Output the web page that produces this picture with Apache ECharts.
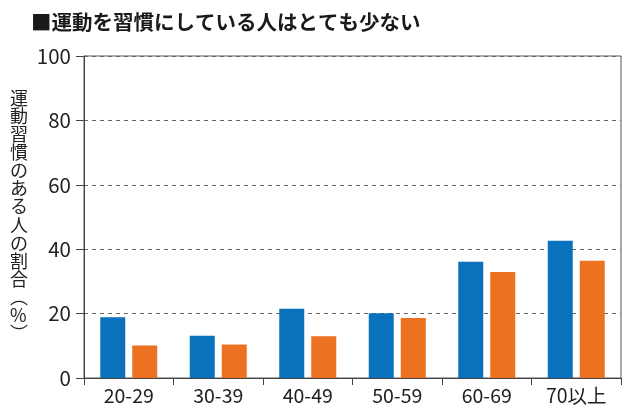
<!DOCTYPE html>
<html>
<head>
<meta charset="utf-8">
<script src="https://cdn.jsdelivr.net/npm/echarts@6/dist/echarts.min.js"></script>
<style>
html,body{margin:0;padding:0;background:#fff;}
#chart{width:630px;height:415px;}
</style>
</head>
<body>
<div id="chart"></div>
<script>
const titleText = '■運動を習慣にしている人はとても少ない';
const yAxisName = '運動習慣のある人の割合(%)';
const categories = ['20-29', '30-39', '40-49', '50-59', '60-69', '70以上'];
const seriesBlue = [18.9, 13.1, 21.5, 20.1, 36.1, 42.6];
const seriesOrange = [10.1, 10.4, 13.0, 18.6, 32.9, 36.4];
const yTicks = [0, 20, 40, 60, 80, 100];

const font = '"Noto Sans CJK JP", "Noto Sans", sans-serif';
const chart = echarts.init(document.getElementById('chart'), null, {renderer: 'canvas'});

const vertName = yAxisName.replace('(', '︵').replace(')', '︶').split('').join('\n');

chart.setOption({
  animation: false,
  backgroundColor: '#fff',
  textStyle: {fontFamily: font},
  title: {
    text: titleText,
    left: 26,
    top: 7,
    textStyle: {fontFamily: font, fontSize: 20.5, fontWeight: 'bold', color: '#1a1a1a'}
  },
  graphic: [{
    type: 'text',
    left: 10,
    top: 89,
    style: {
      text: vertName,
      font: '18px ' + font,
      lineHeight: 18.1,
      fill: '#222',
      textAlign: 'left'
    }
  }],
  grid: {
    left: 84, right: 9, top: 56, bottom: 37,
    show: true,
    borderColor: '#555',
    borderWidth: 1,
    containLabel: false
  },
  xAxis: {
    type: 'category',
    data: categories,
    axisLine: {lineStyle: {color: '#444', width: 1}},
    axisTick: {show: true, length: 7, lineStyle: {color: '#444'}},
    axisLabel: {fontFamily: font, fontSize: 19.5, color: '#222', margin: 8}
  },
  yAxis: {
    type: 'value',
    min: 0, max: 100, interval: 20,
    axisLine: {show: true, lineStyle: {color: '#444', width: 1}},
    axisTick: {show: true, length: 8, lineStyle: {color: '#444'}},
    axisLabel: {fontFamily: font, fontSize: 20.5, color: '#222', margin: 13,
      formatter: v => yTicks.includes(v) ? String(v) : ''},
    splitLine: {show: true, lineStyle: {color: '#666', type: [4, 4], width: 1}}
  },
  series: [
    {type: 'bar', data: seriesBlue, barWidth: 25, barGap: '28%',
      itemStyle: {color: '#0a71bc'}},
    {type: 'bar', data: seriesOrange, barWidth: 25, barGap: '28%',
      itemStyle: {color: '#ec7120'}}
  ]
});
</script>
</body>
</html>
